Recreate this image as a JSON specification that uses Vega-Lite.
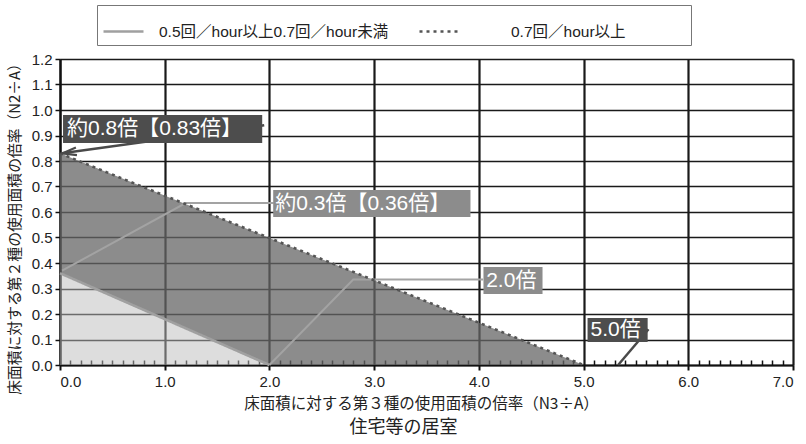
{
  "$schema": "https://vega.github.io/schema/vega-lite/v6.json",
  "width": 733,
  "height": 306,
  "autosize": {"type": "none"},
  "padding": {"left": 60, "top": 59, "right": 13, "bottom": 79},
  "background": "white",
  "title": {"text": "住宅等の居室", "orient": "bottom", "anchor": "middle", "offset": 7, "dx": -23, "fontSize": 18, "fontWeight": "normal", "font": "Noto Sans CJK JP", "color": "#222222"},
  "config": {
    "view": {"stroke": null},
    "axis": {"labelFont": "Liberation Sans", "labelFontSize": 15, "labelColor": "#222222", "titleFont": "Noto Sans CJK JP", "titleFontWeight": "normal", "titleColor": "#222222", "domainColor": "#111111", "tickColor": "#111111", "gridColor": "#1a1a1a", "gridOpacity": 1}
  },
  "datasets": {
    "hatch": [{"x": 0, "y": 0.36}, {"x": 2, "y": 0}],
    "dark": [{"x": 0, "y": 0.83, "bottom": 0.36}, {"x": 2, "y": 0.498, "bottom": 0}, {"x": 5, "y": 0, "bottom": 0}],
    "bounds": [
      {"series": "0.5回／hour以上0.7回／hour未満", "x": 0, "y": 0.36},
      {"series": "0.5回／hour以上0.7回／hour未満", "x": 2, "y": 0},
      {"series": "0.7回／hour以上", "x": 0, "y": 0.83},
      {"series": "0.7回／hour以上", "x": 5, "y": 0}
    ],
    "leaders": [
      {"id": "A", "kind": "dark", "seq": 1, "x": 1.95, "y": 0.94},
      {"id": "A", "kind": "dark", "seq": 2, "x": 0.02, "y": 0.83},
      {"id": "B", "kind": "light", "seq": 1, "x": 0.02, "y": 0.37},
      {"id": "B", "kind": "light", "seq": 2, "x": 1.2, "y": 0.635},
      {"id": "B", "kind": "light", "seq": 3, "x": 2.04, "y": 0.635},
      {"id": "C", "kind": "light", "seq": 1, "x": 2.0, "y": 0.0},
      {"id": "C", "kind": "light", "seq": 2, "x": 2.8, "y": 0.335},
      {"id": "C", "kind": "light", "seq": 3, "x": 4.04, "y": 0.335},
      {"id": "D", "kind": "dark", "seq": 1, "x": 5.62, "y": 0.14},
      {"id": "D", "kind": "dark", "seq": 2, "x": 5.33, "y": 0.0}
    ],
    "arrow": [{"x": 0.09, "y": 0.834}],
    "labels": [
      {"text": "約0.8倍【0.83倍】", "kind": "dark", "x1": 0.029, "x2": 1.931, "y": 0.98, "y2": 0.871, "tx": 0.067, "ty": 0.925},
      {"text": "約0.3倍【0.36倍】", "kind": "light", "x1": 2.036, "x2": 3.92, "y": 0.686, "y2": 0.58, "tx": 2.055, "ty": 0.633},
      {"text": "2.0倍", "kind": "light", "x1": 4.044, "x2": 4.608, "y": 0.384, "y2": 0.278, "tx": 4.07, "ty": 0.331},
      {"text": "5.0倍", "kind": "dark", "x1": 5.038, "x2": 5.612, "y": 0.184, "y2": 0.09, "tx": 5.067, "ty": 0.137}
    ]
  },
  "resolve": {"scale": {"x": "shared"}, "axis": {"x": "independent"}},
  "layer": [
    {
      "data": {"name": "hatch"},
      "mark": {"type": "area", "color": "#bbbbbb", "opacity": 0.5},
      "encoding": {
        "x": {"field": "x", "type": "quantitative", "scale": {"domain": [0, 7], "nice": false},
          "axis": {"orient": "bottom", "values": [0, 1, 2, 3, 4, 5, 6, 7], "format": ".1f", "title": "床面積に対する第３種の使用面積の倍率（N3÷A）", "titleFontSize": 15.5, "titleX": 361, "titleY": 38, "titleBaseline": "middle", "titleAlign": "center", "grid": true, "gridWidth": 2.2, "domainWidth": 2, "tickSize": 5, "tickWidth": 2, "labelPadding": 4}},
        "y": {"field": "y", "type": "quantitative", "scale": {"domain": [0, 1.2], "nice": false},
          "axis": {"values": [0, 0.1, 0.2, 0.3, 0.4, 0.5, 0.6, 0.7, 0.8, 0.9, 1.0, 1.1, 1.2], "format": ".1f", "labelOverlap": false, "title": "床面積に対する第２種の使用面積の倍率（N2÷A）", "titleFontSize": 14.8, "titleX": -45, "titleY": 166, "titleBaseline": "middle", "titleAlign": "center", "grid": true, "gridWidth": 1.6, "domainWidth": 2, "tickSize": 5, "tickWidth": 1.5, "labelPadding": 3}},
        "y2": {"datum": 0}
      }
    },
    {
      "data": {"name": "dark"},
      "mark": {"type": "area", "color": "#666666", "opacity": 0.75},
      "encoding": {
        "x": {"field": "x", "type": "quantitative", "axis": null},
        "y": {"field": "y", "type": "quantitative",
          "axis": {"values": [0, 0.1, 0.2, 0.3, 0.4, 0.5, 0.6, 0.7, 0.8, 0.9, 1.0, 1.1, 1.2], "format": ".1f", "labelOverlap": false, "title": "床面積に対する第２種の使用面積の倍率（N2÷A）", "titleFontSize": 14.8, "titleX": -45, "titleY": 166, "titleBaseline": "middle", "titleAlign": "center", "grid": true, "gridWidth": 1.6, "domainWidth": 2, "tickSize": 5, "tickWidth": 1.5, "labelPadding": 3}},
        "y2": {"field": "bottom"}
      }
    },
    {
      "data": {"name": "leaders"},
      "transform": [{"filter": "datum.kind === 'light'"}],
      "mark": {"type": "line", "color": "#a3a3a3", "strokeWidth": 2},
      "encoding": {
        "x": {"field": "x", "type": "quantitative", "axis": null},
        "y": {"field": "y", "type": "quantitative",
          "axis": {"values": [0, 0.1, 0.2, 0.3, 0.4, 0.5, 0.6, 0.7, 0.8, 0.9, 1.0, 1.1, 1.2], "format": ".1f", "labelOverlap": false, "title": "床面積に対する第２種の使用面積の倍率（N2÷A）", "titleFontSize": 14.8, "titleX": -45, "titleY": 166, "titleBaseline": "middle", "titleAlign": "center", "grid": true, "gridWidth": 1.6, "domainWidth": 2, "tickSize": 5, "tickWidth": 1.5, "labelPadding": 3}},
        "detail": {"field": "id"},
        "order": {"field": "seq"}
      }
    },
    {
      "data": {"name": "bounds"},
      "mark": {"type": "line", "strokeWidth": 2.6, "strokeCap": "butt"},
      "encoding": {
        "x": {"field": "x", "type": "quantitative",
          "axis": {"orient": "bottom", "values": [0.1,0.2,0.3,0.4,0.5,0.6,0.7,0.8,0.9,1.1,1.2,1.3,1.4,1.5,1.6,1.7,1.8,1.9,2.1,2.2,2.3,2.4,2.5,2.6,2.7,2.8,2.9,3.1,3.2,3.3,3.4,3.5,3.6,3.7,3.8,3.9,4.1,4.2,4.3,4.4,4.5,4.6,4.7,4.8,4.9,5.1,5.2,5.3,5.4,5.5,5.6,5.7,5.8,5.9,6.1,6.2,6.3,6.4,6.5,6.6,6.7,6.8,6.9], "labels": false, "domain": false, "grid": false, "title": null, "tickSize": -5, "tickWidth": 1.5}},
        "y": {"field": "y", "type": "quantitative",
          "axis": {"values": [0, 0.1, 0.2, 0.3, 0.4, 0.5, 0.6, 0.7, 0.8, 0.9, 1.0, 1.1, 1.2], "format": ".1f", "labelOverlap": false, "title": "床面積に対する第２種の使用面積の倍率（N2÷A）", "titleFontSize": 14.8, "titleX": -45, "titleY": 166, "titleBaseline": "middle", "titleAlign": "center", "grid": true, "gridWidth": 1.6, "domainWidth": 2, "tickSize": 5, "tickWidth": 1.5, "labelPadding": 3}},
        "color": {"field": "series", "type": "nominal",
          "scale": {"domain": ["0.5回／hour以上0.7回／hour未満", "0.7回／hour以上"], "range": ["#a0a0a0", "#555555"]},
          "legend": {"title": null, "orient": "none", "legendX": 37, "legendY": -54, "direction": "horizontal", "columns": 2, "gridAlign": "all", "symbolType": "stroke", "symbolSize": 1600, "symbolStrokeWidth": 2.6, "labelFont": "Liberation Sans, Noto Sans CJK JP", "labelFontSize": 15.5, "labelColor": "#222222", "labelOffset": 14, "columnPadding": 25, "padding": 5, "strokeColor": "#777777", "fillColor": "white", "labelLimit": 0,
            "encode": {
              "symbols": {"update": {"strokeDash": {"signal": "indexof(datum.value, '未満') < 0 ? [3, 4] : [1, 0]"}}},
              "labels": {"update": {"dx": {"signal": "indexof(datum.value, '未満') < 0 ? 36 : 0"}, "text": {"signal": "indexof(datum.value, '未満') < 0 ? datum.value + '⠀⠀⠀⠀⠀' : datum.value"}}}
            }}},
        "strokeDash": {"field": "series", "type": "nominal",
          "scale": {"domain": ["0.5回／hour以上0.7回／hour未満", "0.7回／hour以上"], "range": [[1, 0], [3, 4]]},
          "legend": null}
      }
    },
    {
      "data": {"name": "leaders"},
      "transform": [{"filter": "datum.kind === 'dark'"}],
      "mark": {"type": "line", "color": "#4a4a4a", "strokeWidth": 2.5},
      "encoding": {
        "x": {"field": "x", "type": "quantitative", "axis": null},
        "y": {"field": "y", "type": "quantitative",
          "axis": {"values": [0, 0.1, 0.2, 0.3, 0.4, 0.5, 0.6, 0.7, 0.8, 0.9, 1.0, 1.1, 1.2], "format": ".1f", "labelOverlap": false, "title": "床面積に対する第２種の使用面積の倍率（N2÷A）", "titleFontSize": 14.8, "titleX": -45, "titleY": 166, "titleBaseline": "middle", "titleAlign": "center", "grid": true, "gridWidth": 1.6, "domainWidth": 2, "tickSize": 5, "tickWidth": 1.5, "labelPadding": 3}},
        "detail": {"field": "id"},
        "order": {"field": "seq"}
      }
    },
    {
      "data": {"name": "arrow"},
      "mark": {"type": "point", "shape": "M1,-0.55L-1,0L1,0.55", "filled": false, "stroke": "#4a4a4a", "strokeWidth": 2.2, "size": 200, "angle": 352, "opacity": 1},
      "encoding": {
        "x": {"field": "x", "type": "quantitative", "axis": null},
        "y": {"field": "y", "type": "quantitative",
          "axis": {"values": [0, 0.1, 0.2, 0.3, 0.4, 0.5, 0.6, 0.7, 0.8, 0.9, 1.0, 1.1, 1.2], "format": ".1f", "labelOverlap": false, "title": "床面積に対する第２種の使用面積の倍率（N2÷A）", "titleFontSize": 14.8, "titleX": -45, "titleY": 166, "titleBaseline": "middle", "titleAlign": "center", "grid": true, "gridWidth": 1.6, "domainWidth": 2, "tickSize": 5, "tickWidth": 1.5, "labelPadding": 3}}
      }
    },
    {
      "data": {"name": "labels"},
      "mark": {"type": "rect"},
      "encoding": {
        "x": {"field": "x1", "type": "quantitative", "axis": null},
        "x2": {"field": "x2"},
        "y": {"field": "y", "type": "quantitative",
          "axis": {"values": [0, 0.1, 0.2, 0.3, 0.4, 0.5, 0.6, 0.7, 0.8, 0.9, 1.0, 1.1, 1.2], "format": ".1f", "labelOverlap": false, "title": "床面積に対する第２種の使用面積の倍率（N2÷A）", "titleFontSize": 14.8, "titleX": -45, "titleY": 166, "titleBaseline": "middle", "titleAlign": "center", "grid": true, "gridWidth": 1.6, "domainWidth": 2, "tickSize": 5, "tickWidth": 1.5, "labelPadding": 3}},
        "y2": {"field": "y2"},
        "fill": {"field": "kind", "type": "nominal", "scale": {"domain": ["dark", "light"], "range": ["#4d4d4d", "#8c8c8c"]}, "legend": null}
      }
    },
    {
      "data": {"name": "labels"},
      "mark": {"type": "text", "align": "left", "baseline": "middle", "fontSize": 21, "font": "Liberation Sans, Noto Sans CJK JP", "color": "white"},
      "encoding": {
        "x": {"field": "tx", "type": "quantitative", "axis": null},
        "y": {"field": "ty", "type": "quantitative",
          "axis": {"values": [0, 0.1, 0.2, 0.3, 0.4, 0.5, 0.6, 0.7, 0.8, 0.9, 1.0, 1.1, 1.2], "format": ".1f", "labelOverlap": false, "title": "床面積に対する第２種の使用面積の倍率（N2÷A）", "titleFontSize": 14.8, "titleX": -45, "titleY": 166, "titleBaseline": "middle", "titleAlign": "center", "grid": true, "gridWidth": 1.6, "domainWidth": 2, "tickSize": 5, "tickWidth": 1.5, "labelPadding": 3}},
        "text": {"field": "text"}
      }
    }
  ]
}
